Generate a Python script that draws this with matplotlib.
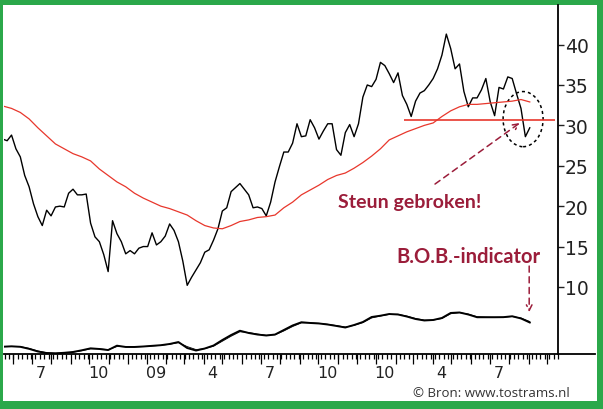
import matplotlib
matplotlib.use('Agg')
import matplotlib.pyplot as plt
import matplotlib.dates as mdates
import matplotlib.ticker as mticker
from matplotlib.patches import Ellipse, Rectangle
import pandas as pd

# === Data (weekly closes) ===
price_start = '2008-05-16'
price = [
    28.3, 28.1, 28.8, 27.1, 26.1, 23.8, 22.4, 20.3, 18.7, 17.6,
    19.5, 18.8, 19.9, 20.0, 19.9, 21.6, 22.1, 21.4, 21.4, 21.5,
    17.9, 16.2, 15.6, 14.0, 11.9, 18.2, 16.6, 15.6, 14.1, 14.5,
    14.1, 14.8, 15.0, 15.0, 16.7, 15.2, 15.6, 16.3, 17.8, 17.0,
    15.6, 13.2, 10.2, 11.2, 12.1, 13.0, 14.3, 14.6, 15.8, 17.2,
    19.4, 19.8, 21.8, 22.3, 22.8, 22.1, 21.4, 19.8, 19.9, 19.7,
    18.8, 20.5, 23.0, 24.9, 26.7, 26.7, 27.8, 30.2, 28.6, 28.7,
    30.7, 29.7, 28.3, 29.3, 30.2, 30.2, 27.0, 26.3, 29.1, 30.1,
    28.6, 30.2, 33.5, 35.0, 34.8, 35.7, 37.8, 37.4, 36.4, 35.3,
    36.5, 33.7, 32.6, 31.1, 33.0, 34.0, 34.3, 35.0, 35.8, 37.0,
    38.7, 41.3, 39.5, 37.0, 37.6, 34.2, 32.3, 33.4, 33.4, 34.4,
    35.8, 32.9, 31.2, 34.7, 34.5, 36.0, 35.8, 33.9, 32.1, 28.6,
    29.7,
]

# moving average, every two weeks
ma_values = [
    32.4, 32.1, 31.6, 30.8, 29.7, 28.7, 27.7, 27.1, 26.5, 26.1,
    25.6, 24.6, 23.8, 23.0, 22.4, 21.6, 21.0, 20.5, 20.0, 19.7,
    19.3, 18.9, 18.2, 17.6, 17.3, 17.2, 17.6, 18.1, 18.3, 18.6,
    18.7, 18.9, 19.8, 20.5, 21.4, 22.0, 22.6, 23.3, 23.8, 24.1,
    24.7, 25.4, 26.2, 27.1, 28.2, 28.7, 29.2, 29.6, 30.0, 30.3,
    31.1, 31.8, 32.3, 32.6, 32.6, 32.7, 32.8, 32.9, 33.0, 33.2,
    32.9,
]

# B.O.B.-indicator (drawn at the bottom of the price scale)
bob = [
    2.60, 2.65, 2.59, 2.34, 2.01, 1.82, 1.78, 1.85, 1.95, 2.16,
    2.40, 2.32, 2.19, 2.73, 2.57, 2.57, 2.63, 2.71, 2.79, 2.94,
    3.18, 2.44, 2.13, 2.38, 2.75, 3.43, 4.05, 4.58, 4.30, 4.11,
    3.99, 4.11, 4.67, 5.23, 5.63, 5.54, 5.48, 5.35, 5.17, 4.98,
    5.29, 5.66, 6.28, 6.44, 6.65, 6.59, 6.34, 6.03, 5.85, 5.91,
    6.16, 6.78, 6.84, 6.59, 6.25, 6.25, 6.25, 6.26, 6.37, 6.10,
    5.60,
]
bob_signal = [
    2.62, 2.64, 2.62, 2.40, 2.08, 1.86, 1.80, 1.84, 1.92, 2.10,
    2.34, 2.34, 2.24, 2.62, 2.60, 2.58, 2.62, 2.69, 2.77, 2.90,
    3.10, 2.62, 2.25, 2.36, 2.66, 3.28, 3.90, 4.45, 4.36, 4.17,
    4.02, 4.08, 4.55, 5.10, 5.55, 5.56, 5.50, 5.38, 5.22, 5.04,
    5.24, 5.58, 6.16, 6.40, 6.60, 6.62, 6.40, 6.10, 5.90, 5.90,
    6.08, 6.68, 6.82, 6.65, 6.32, 6.27, 6.25, 6.25, 6.34, 6.16,
    5.72,
]

support_level = 30.7
support_from, support_to = '2010-02-14', '2010-10-13'

yticks = [10, 15, 20, 25, 30, 35, 40]
label_dates = ['2008-07-15', '2008-10-15', '2009-01-15', '2009-04-15', '2009-07-15',
               '2009-10-15', '2010-01-15', '2010-04-15', '2010-07-15']
label_texts = ['7', '10', '09', '4', '7', '10', '10', '4', '7']

dates_w = pd.date_range(price_start, periods=len(price), freq='7D')
dates_2w = pd.date_range(price_start, periods=len(ma_values), freq='14D')

RED = '#e8372c'
DARKRED = '#9b1d3a'
GREEN = '#2ba84a'

# === Figure with green frame ===
fig = plt.figure(figsize=(6.03, 4.10), dpi=100, facecolor=GREEN)
fig.patches.append(Rectangle((3 / 603, 8 / 410), 594 / 603, 396 / 410, transform=fig.transFigure,
                             facecolor='white', edgecolor='none', zorder=-10))

ax = fig.add_axes([4 / 603, 55 / 410, 554 / 603, 349 / 410])
ax.patch.set_alpha(0)

ax.plot(dates_w, price, color='black', lw=1.0)
ax.plot(dates_2w, ma_values, color=RED, lw=0.9)
ax.hlines(support_level, pd.Timestamp(support_from), pd.Timestamp(support_to), color=RED, lw=1.2)
ax.plot(dates_2w, bob_signal, color='black', lw=0.6)
ax.plot(dates_2w, bob, color='black', lw=1.4)

ax.set_xlim(pd.Timestamp('2008-05-18'), pd.Timestamp('2010-10-18'))
ax.set_ylim(1.7, 44.9)

# === Axes styling ===
for s in ['top', 'left']:
    ax.spines[s].set_visible(False)
for s in ['right', 'bottom']:
    ax.spines[s].set_linewidth(1.3)

ax.yaxis.tick_right()
ax.set_yticks(yticks)
ax.tick_params(axis='y', direction='out', length=4, width=1, labelsize=13.5, pad=1, colors='#222222')

ax.xaxis.set_major_locator(mdates.MonthLocator())
ax.xaxis.set_major_formatter(mticker.NullFormatter())
ax.xaxis.set_minor_locator(mdates.WeekdayLocator(byweekday=mdates.MO))
ax.tick_params(axis='x', which='major', length=7, width=0.9)
ax.tick_params(axis='x', which='minor', length=3.5, width=0.9)

sec = ax.secondary_xaxis('bottom')
sec.set_xticks([pd.Timestamp(d) for d in label_dates])
sec.set_xticklabels(label_texts)
sec.tick_params(length=0, labelsize=11.5, pad=8, colors='#222222')
sec.spines['bottom'].set_visible(False)

# bottom line runs on past the price scale
ax.plot([1, 1.0668], [0, 0], transform=ax.transAxes, color='black', lw=1.3, clip_on=False)

# === Annotations ===
ax.add_patch(Ellipse((0.937, 0.673), 0.0722, 0.158, transform=ax.transAxes, fill=False,
                     ec='black', lw=1.1, ls=(0, (2, 2))))

ax.annotate('', xy=(0.931, 0.662), xytext=(0.778, 0.487), xycoords='axes fraction',
            arrowprops=dict(arrowstyle='->', color=DARKRED, lw=1.1, linestyle=(0, (4, 3)),
                            shrinkA=0, shrinkB=0))
ax.text(0.733, 0.438, 'Steun gebroken!', transform=ax.transAxes, ha='center', va='center',
        color=DARKRED, fontsize=14, fontweight='bold', family='Lato')

ax.annotate('', xy=(0.948, 0.120), xytext=(0.948, 0.252), xycoords='axes fraction',
            arrowprops=dict(arrowstyle='->', color=DARKRED, lw=1.1, linestyle=(0, (4, 3)),
                            shrinkA=0, shrinkB=0))
ax.text(0.838, 0.281, 'B.O.B.-indicator', transform=ax.transAxes, ha='center', va='center',
        color=DARKRED, fontsize=14.5, fontweight='bold', family='Lato')

fig.text(0.945, 0.040, '\u00a9 Bron: www.tostrams.nl', ha='right', va='center',
         fontsize=9.5, color='#333333', family='Open Sans')

fig.savefig('out.png', dpi=100, facecolor=fig.get_facecolor())
